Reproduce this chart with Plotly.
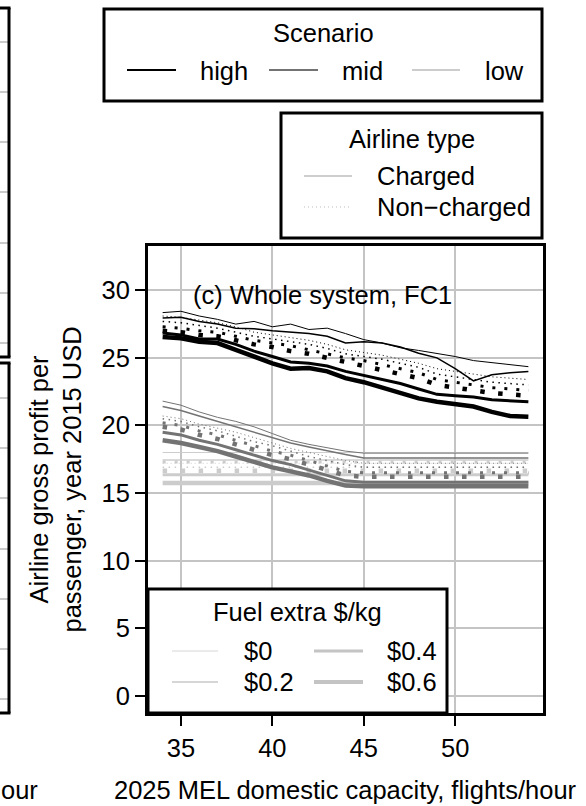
import plotly.graph_objects as go

# ---------------- data ----------------
capacity = [34, 35, 36, 37, 38, 39, 40, 41, 42, 43, 44, 45, 46, 47, 48, 49, 50, 51, 52, 53, 54]
fuel_labels = ["$0", "$0.2", "$0.4", "$0.6"]
scenario_labels = ["high", "mid", "low"]
airline_labels = ["Charged", "Non\u2212charged"]
x_ticks = [35, 40, 45, 50]
y_ticks = [0, 5, 10, 15, 20, 25, 30]

high_c0 = [28.35, 28.45, 28.1, 27.85, 27.5, 27.7, 27.3, 27.5, 27.1, 27.2, 26.8, 26.35, 26.1, 25.75, 25.55, 25.35, 25.1, 24.8, 24.65, 24.5, 24.35]
high_c02 = [27.95, 28.0, 27.7, 27.5, 27.2, 27.15, 27.0, 26.9, 26.8, 26.6, 26.1, 26.2, 26.1, 25.8, 25.35, 25.0, 24.2, 23.3, 23.75, 23.9, 24.0]
high_c04 = [26.85, 26.7, 26.4, 26.4, 26.0, 25.5, 25.1, 24.7, 24.6, 24.4, 24.0, 23.7, 23.4, 23.1, 22.7, 22.3, 22.2, 22.1, 21.9, 21.8, 21.75]
high_c06 = [26.55, 26.45, 26.2, 26.1, 25.6, 25.1, 24.6, 24.2, 24.25, 24.0, 23.5, 23.2, 22.8, 22.4, 22.0, 21.75, 21.6, 21.4, 21.0, 20.7, 20.65]
high_n0 = [28.1, 28.0, 27.8, 27.6, 27.3, 26.9, 26.7, 26.5, 26.3, 26.0, 25.6, 25.4, 25.2, 24.9, 24.6, 24.2, 24.0, 23.8, 23.6, 23.5, 23.4]
high_n02 = [27.7, 27.6, 27.4, 27.2, 26.9, 26.6, 26.4, 26.2, 26.0, 25.7, 25.3, 25.1, 24.9, 24.6, 24.3, 23.8, 23.6, 23.4, 23.2, 23.1, 23.0]
high_n04 = [27.3, 27.2, 27.0, 26.9, 26.6, 26.3, 26.1, 25.9, 25.6, 25.3, 25.0, 24.8, 24.5, 24.2, 23.9, 23.4, 23.2, 23.0, 22.8, 22.7, 22.6]
high_n06 = [27.0, 26.9, 26.7, 26.6, 26.3, 26.0, 25.8, 25.5, 25.3, 25.0, 24.7, 24.4, 24.1, 23.8, 23.5, 23.0, 22.8, 22.6, 22.4, 22.3, 22.2]

mid_c0 = [21.8, 21.5, 21.0, 20.6, 20.3, 19.9, 19.4, 18.9, 18.6, 18.35, 18.1, 17.95, 17.95, 17.95, 17.95, 17.95, 17.95, 17.95, 17.95, 17.95, 17.95]
mid_c02 = [21.4, 21.1, 20.7, 20.3, 19.9, 19.5, 19.1, 18.7, 18.4, 18.1, 17.85, 17.6, 17.6, 17.6, 17.6, 17.6, 17.6, 17.6, 17.6, 17.6, 17.6]
mid_c04 = [19.5, 19.3, 18.9, 18.6, 18.2, 17.8, 17.4, 17.1, 16.7, 16.3, 15.9, 15.8, 15.8, 15.8, 15.8, 15.8, 15.8, 15.8, 15.8, 15.8, 15.8]
mid_c06 = [18.9, 18.7, 18.4, 18.1, 17.7, 17.3, 16.9, 16.6, 16.3, 15.9, 15.55, 15.5, 15.5, 15.5, 15.5, 15.5, 15.5, 15.5, 15.5, 15.5, 15.5]
mid_n0 = [20.7, 20.5, 20.1, 19.8, 19.5, 19.1, 18.7, 18.3, 18.0, 17.7, 17.4, 17.2, 17.2, 17.2, 17.2, 17.2, 17.2, 17.2, 17.2, 17.2, 17.2]
mid_n02 = [20.5, 20.3, 19.9, 19.6, 19.2, 18.8, 18.5, 18.1, 17.7, 17.4, 17.1, 16.9, 16.9, 16.9, 16.9, 16.9, 16.9, 16.9, 16.9, 16.9, 16.9]
mid_n04 = [20.2, 20.0, 19.6, 19.3, 18.9, 18.5, 18.1, 17.8, 17.4, 17.0, 16.6, 16.5, 16.5, 16.5, 16.5, 16.5, 16.5, 16.5, 16.5, 16.5, 16.5]
mid_n06 = [19.9, 19.7, 19.3, 19.0, 18.6, 18.2, 17.8, 17.5, 17.1, 16.7, 16.3, 16.2, 16.2, 16.2, 16.2, 16.2, 16.2, 16.2, 16.2, 16.2, 16.2]

low_c0 = [18.0, 18.0, 18.0, 18.0, 18.0, 18.0, 18.0, 18.0, 18.0, 18.0, 18.0, 18.0, 18.0, 18.0, 18.0, 18.0, 18.0, 18.0, 18.0, 18.0, 18.0]
low_c02 = [17.45, 17.45, 17.45, 17.45, 17.45, 17.45, 17.45, 17.45, 17.45, 17.45, 17.45, 17.45, 17.45, 17.45, 17.45, 17.45, 17.45, 17.45, 17.45, 17.45, 17.45]
low_c04 = [16.35, 16.35, 16.35, 16.35, 16.35, 16.35, 16.35, 16.35, 16.35, 16.35, 16.35, 16.35, 16.35, 16.35, 16.35, 16.35, 16.35, 16.35, 16.35, 16.35, 16.35]
low_c06 = [15.75, 15.75, 15.75, 15.75, 15.75, 15.75, 15.75, 15.75, 15.75, 15.75, 15.75, 15.75, 15.75, 15.75, 15.75, 15.75, 15.75, 15.75, 15.75, 15.75, 15.75]
low_n0 = [17.2, 17.2, 17.2, 17.2, 17.2, 17.2, 17.2, 17.2, 17.2, 17.2, 17.2, 17.2, 17.2, 17.2, 17.2, 17.2, 17.2, 17.2, 17.2, 17.2, 17.2]
low_n02 = [16.9, 16.9, 16.9, 16.9, 16.9, 16.9, 16.9, 16.9, 16.9, 16.9, 16.9, 16.9, 16.9, 16.9, 16.9, 16.9, 16.9, 16.9, 16.9, 16.9, 16.9]
low_n04 = [17.3, 17.3, 17.3, 17.3, 17.3, 17.3, 17.3, 17.3, 17.3, 17.3, 17.3, 17.3, 17.3, 17.3, 17.3, 17.3, 17.3, 17.3, 17.3, 17.3, 17.3]
low_n06 = [16.65, 16.65, 16.65, 16.65, 16.65, 16.65, 16.65, 16.65, 16.65, 16.65, 16.65, 16.65, 16.65, 16.65, 16.65, 16.65, 16.65, 16.65, 16.65, 16.65, 16.65]

# ---------------- styles ----------------
scenario_colors = {"high": "#000000", "mid": "#737373", "low": "#cccccc"}
fuel_widths = [1.0, 1.5, 3.0, 4.5]
legend_fuel_widths = [1.0, 1.5, 3.0, 4.0]

series = {
    "low": ([low_c0, low_c02, low_c04, low_c06], [low_n0, low_n02, low_n04, low_n06]),
    "mid": ([mid_c0, mid_c02, mid_c04, mid_c06], [mid_n0, mid_n02, mid_n04, mid_n06]),
    "high": ([high_c0, high_c02, high_c04, high_c06], [high_n0, high_n02, high_n04, high_n06]),
}

W, H = 586, 806
L, R, T, B = 148, 543, 246, 713
FONT = "Liberation Sans, Arial, Helvetica, sans-serif"
FS = 25.5


def px(x):
    return (x - L) / (R - L)


def py(y):
    return (B - y) / (B - T)


fig = go.Figure()

for scen in ["low", "mid", "high"]:
    charged, noncharged = series[scen]
    for kind, group in (("solid", charged), ("dot", noncharged)):
        for i, vals in enumerate(group):
            w = fuel_widths[i]
            dash = "solid" if kind == "solid" else f"{w:g}px,{3 * w:g}px"
            fig.add_trace(go.Scatter(
                x=capacity, y=vals, mode="lines",
                line=dict(color=scenario_colors[scen], width=w, dash=dash),
                showlegend=False, hoverinfo="skip",
            ))

shapes = []
annotations = []


def box(x0, y0, x1, y1, width=3):
    shapes.append(dict(type="rect", xref="paper", yref="paper",
                       x0=px(x0), x1=px(x1), y0=py(y1), y1=py(y0),
                       line=dict(color="black", width=width), fillcolor="white", layer="above"))


def seg(x0, x1, y, color, width, dash="solid", layer="above"):
    shapes.append(dict(type="line", xref="paper", yref="paper",
                       x0=px(x0), x1=px(x1), y0=py(y), y1=py(y),
                       line=dict(color=color, width=width, dash=dash), layer=layer))


def vseg(x, y0, y1, color, width):
    shapes.append(dict(type="line", xref="paper", yref="paper",
                       x0=px(x), x1=px(x), y0=py(y0), y1=py(y1),
                       line=dict(color=color, width=width), layer="above"))


def text(t, x, y, xanchor="left", angle=0, size=FS):
    annotations.append(dict(text=t, x=px(x), y=py(y), xref="paper", yref="paper",
                            xanchor=xanchor, yanchor="middle", showarrow=False,
                            textangle=angle, font=dict(family=FONT, size=size, color="black")))


# --- remnants of the neighbouring panels on the left edge ---
for gy in [42, 92, 142, 192, 243, 293, 343]:
    seg(-5, 8, gy, "#c4c4c4", 1.8)
for gy in [398, 448, 498, 549, 599, 649, 699]:
    seg(-5, 8, gy, "#c4c4c4", 1.8)
seg(-5, 10.5, 8, "black", 3)
seg(-5, 10.5, 357, "black", 3)
vseg(9, 8, 357, "black", 3)
seg(-5, 10.5, 363, "black", 3)
seg(-5, 10.5, 713, "black", 3)
vseg(9, 363, 713, "black", 3)
text("our", 40, 790, xanchor="right")

# --- Scenario legend ---
box(104, 9, 542, 101)
text("Scenario", 323, 33, xanchor="center")
leg_x = [(127, 176, 198), (269, 318, 340), (412, 460, 483)]
for (a, b, tx), lab in zip(leg_x, scenario_labels):
    seg(a, b, 70, scenario_colors[lab], 2)
    text(lab, tx, 71)

# --- Airline type legend ---
box(281, 113, 542, 238)
text("Airline type", 412, 139, xanchor="center")
seg(304, 352, 176, "#bebebe", 1.5)
text(airline_labels[0], 375, 176)
seg(304, 352, 207, "#bebebe", 1.2, dash="1px,3px")
text(airline_labels[1], 375, 207)

# --- Fuel legend (inside plot, bottom-left) ---
box(148, 589, 447, 713)
text("Fuel extra $/kg", 297.5, 612, xanchor="center")
fuel_pos = [(172, 218, 651, 242), (172, 218, 682, 242), (314, 363, 651, 385), (314, 363, 682, 385)]
fuel_cols = ["#d6d6d6", "#c8c8c8", "#c4c4c4", "#c4c4c4"]
for (a, b, yy, tx), lab, w, c in zip(fuel_pos, fuel_labels, legend_fuel_widths, fuel_cols):
    seg(a, b, yy, c, w)
    text(lab, tx, yy)

# --- titles ---
text("(c) Whole system, FC1", 191, 295)
text("2025 MEL domestic capacity, flights/hour", 345.5, 790, xanchor="center")
text("Airline gross profit per<br>passenger, year 2015 USD", 55, 479.5, xanchor="center", angle=-90)

axis_common = dict(
    showgrid=True, gridcolor="#c4c4c4", gridwidth=1.8,
    showline=True, mirror=True, linecolor="black", linewidth=3,
    ticks="outside", ticklen=10, tickwidth=1.5, tickcolor="black",
    tickfont=dict(family=FONT, size=FS, color="black"), zeroline=False,
)

fig.update_layout(
    width=W, height=H,
    margin=dict(l=L, r=W - R, t=T, b=H - B, pad=0),
    paper_bgcolor="white", plot_bgcolor="white",
    xaxis=dict(range=[33.2, 54.8], tickvals=x_ticks, **axis_common),
    yaxis=dict(range=[-1.28, 33.28], tickvals=y_ticks, **axis_common),
    shapes=shapes, annotations=annotations,
    showlegend=False,
)

fig.write_html("out.html")
